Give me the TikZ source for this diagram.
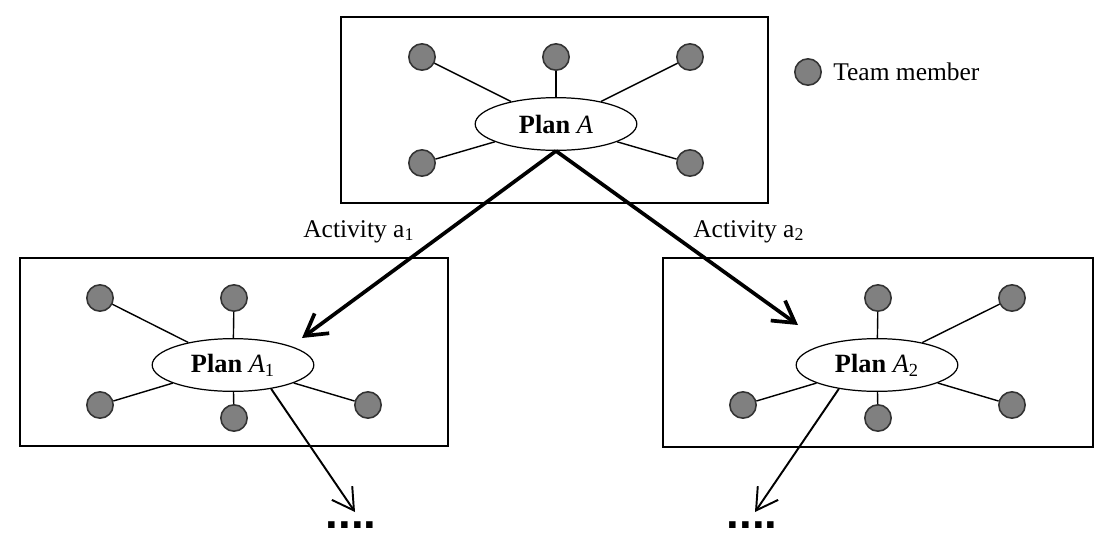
\documentclass[tikz,border=0pt]{standalone}
\usepackage{fontspec}
\setmainfont{Liberation Serif}
\newfontfamily\dotfont{Liberation Sans}
\usetikzlibrary{shapes.geometric,arrows.meta}

\tikzset{
  member/.style={circle,draw=black!80,fill=black!50,line width=0.9pt,minimum size=15pt,inner sep=0pt},
  plan/.style={ellipse,draw,fill=white,line width=0.7pt,minimum width=92pt,minimum height=30pt,inner sep=0pt,font=\fontsize{15}{18}\selectfont},
  box/.style={draw,line width=0.8pt},
  link/.style={line width=0.8pt},
  bigarrow/.style={-{Straight Barb[length=12pt,width=14pt]},line width=2.1pt},
  smallarrow/.style={-{Straight Barb[length=12pt,width=14pt]},line width=1.1pt},
  label/.style={anchor=base west,inner sep=0pt},
  more/.style={anchor=base,inner sep=0pt,font=\fontsize{26}{28}\dotfont\bfseries}
}

\begin{document}
\begin{tikzpicture}[x=0.02cm,y=-0.02cm,font=\fontsize{14.5}{17}\selectfont]
\useasboundingbox (0,0) rectangle (1100,535);

% plan A
\draw[box] (341,17) rectangle (768,203);
\node[plan] (pa) at (556,124) {\textbf{Plan} \textit{A}};
\foreach \n/\x/\y in {1/422/57,2/556/57,3/690/57,4/422/163,5/690/163} {
  \node[member] (pa-\n) at (\x,\y) {};
  \draw[link] (pa-\n) -- (pa);
}

% legend
\node[member] (key) at (808,72) {};
\node[label] (keytext) at (833,80) {Team member};

% plan A1
\draw[box] (20,258) rectangle (448,446);
\node[plan] (pa1) at (233,365) {\textbf{Plan} \textit{A}\textsubscript{1}};
\foreach \n/\x/\y in {1/100/298,2/234/298,3/100/405,4/234/418,5/368/405} {
  \node[member] (pa1-\n) at (\x,\y) {};
  \draw[link] (pa1-\n) -- (pa1);
}

% plan A2
\draw[box] (663,258) rectangle (1093,447);
\node[plan] (pa2) at (877,365) {\textbf{Plan} \textit{A}\textsubscript{2}};
\foreach \n/\x/\y in {1/878/298,2/1012/298,3/743/405,4/878/418,5/1012/405} {
  \node[member] (pa2-\n) at (\x,\y) {};
  \draw[link] (pa2-\n) -- (pa2);
}

% activities
\coordinate (t1) at (302,338);
\coordinate (t2) at (798,325);
\draw[bigarrow] (pa.south) -- (t1);
\draw[bigarrow] (pa.south) -- (t2);
\node[label] (act1) at (303,237) {Activity a\textsubscript{1}};
\node[label] (act2) at (693,237) {Activity a\textsubscript{2}};

% next levels
\coordinate (n1) at (355,512);
\coordinate (n2) at (755,512);
\draw[smallarrow] (pa1.-32) -- (n1);
\draw[smallarrow] (pa2.-148) -- (n2);
\node[more] (more1) at (351,528) {....};
\node[more] (more2) at (752,528) {....};

\end{tikzpicture}
\end{document}
